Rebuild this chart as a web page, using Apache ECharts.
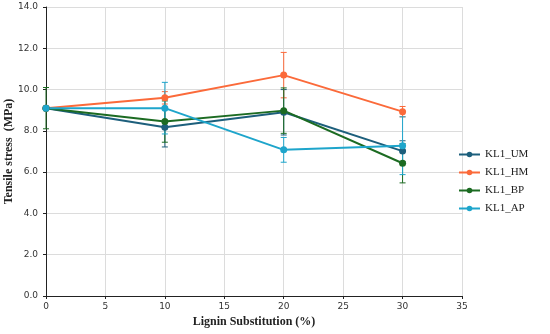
<!DOCTYPE html>
<html><head><meta charset="utf-8">
<script src="https://cdn.jsdelivr.net/npm/echarts@6/dist/echarts.min.js"></script>
<style>html,body{margin:0;padding:0;background:#fff}#c{width:550px;height:334px}</style>
</head><body><div id="c"></div>
<script>
const xValues = [0, 10, 20, 30];
const seriesNames = ['KL1_UM', 'KL1_HM', 'KL1_BP', 'KL1_AP'];
const UM = [9.1, 8.17, 8.9, 7.02];
const HM = [9.1, 9.6, 10.7, 8.93];
const BP = [9.1, 8.45, 8.98, 6.43];
const AP = [9.1, 9.1, 7.08, 7.28];
const UM_err = [0, 0.95, 1.1, 0.5];
const HM_err = [0, 0.3, 1.1, 0.25];
const BP_err = [1.0, 1.0, 1.1, 0.95];
const AP_err = [0, 1.25, 0.6, 1.4];
const colors = ['#1d5f7c', '#fb6a3a', '#1c6b22', '#1ea5cb'];
const values = [UM, HM, BP, AP];
const errs = [UM_err, HM_err, BP_err, AP_err];

const chart = echarts.init(document.getElementById('c'));
const series = [];
values.forEach((v, i) => {
  series.push({
    type: 'custom', name: seriesNames[i] + '_err', silent: true, z: 1,
    data: xValues.map((x, j) => [x, v[j] - errs[i][j], v[j] + errs[i][j]]),
    renderItem: (params, api) => {
      const lo = api.coord([api.value(0), api.value(1)]);
      const hi = api.coord([api.value(0), api.value(2)]);
      if (Math.abs(hi[1] - lo[1]) < 0.5) return null;
      const w = 3;
      const st = { stroke: colors[i], lineWidth: 1 };
      return { type: 'group', children: [
        { type: 'line', shape: { x1: lo[0], y1: lo[1], x2: hi[0], y2: hi[1] }, style: st },
        { type: 'line', shape: { x1: lo[0] - w, y1: lo[1], x2: lo[0] + w, y2: lo[1] }, style: st },
        { type: 'line', shape: { x1: hi[0] - w, y1: hi[1], x2: hi[0] + w, y2: hi[1] }, style: st }
      ]};
    }
  });
});
values.forEach((v, i) => {
  series.push({
    type: 'line', name: seriesNames[i], z: 3,
    data: xValues.map((x, j) => [x, v[j]]),
    symbol: 'circle', symbolSize: 7,
    lineStyle: { color: colors[i], width: 2 },
    itemStyle: { color: colors[i] }
  });
});

chart.setOption({
  animation: false,
  grid: { left: 46, right: 88, top: 7, bottom: 38, containLabel: false, outerBoundsMode: 'none' },
  legend: {
    data: seriesNames, orient: 'vertical', left: 453, top: 144,
    itemWidth: 21, itemHeight: 7, itemGap: 7,
    textStyle: { fontFamily: 'Liberation Serif', fontSize: 11, color: '#222' }
  },
  xAxis: {
    type: 'value', min: 0, max: 35, interval: 5,
    name: 'Lignin Substitution (%)', nameLocation: 'middle', nameGap: 20, nameMoveOverlap: false,
    nameTextStyle: { fontFamily: 'Liberation Serif', fontWeight: 'bold', fontSize: 12, color: '#222' },
    axisLine: { lineStyle: { color: '#222', width: 1 } },
    axisTick: { show: true, length: 3, lineStyle: { color: '#222' } },
    axisLabel: { fontFamily: 'DejaVu Sans', fontSize: 9, color: '#333', margin: 6 },
    splitLine: { show: true, lineStyle: { color: '#dcdcdc' } }
  },
  yAxis: {
    type: 'value', min: 0, max: 14, interval: 2,
    name: 'Tensile stress  (MPa)', nameLocation: 'middle', nameGap: 31, nameMoveOverlap: false,
    nameTextStyle: { fontFamily: 'Liberation Serif', fontWeight: 'bold', fontSize: 12, color: '#222' },
    axisLine: { show: true, lineStyle: { color: '#222', width: 1 } },
    axisTick: { show: true, length: 3, lineStyle: { color: '#222' } },
    axisLabel: { fontFamily: 'DejaVu Sans', fontSize: 9, color: '#333', margin: 8, formatter: v => v.toFixed(1) },
    splitLine: { show: true, lineStyle: { color: '#dcdcdc' } }
  },
  series: series
});
</script></body></html>
